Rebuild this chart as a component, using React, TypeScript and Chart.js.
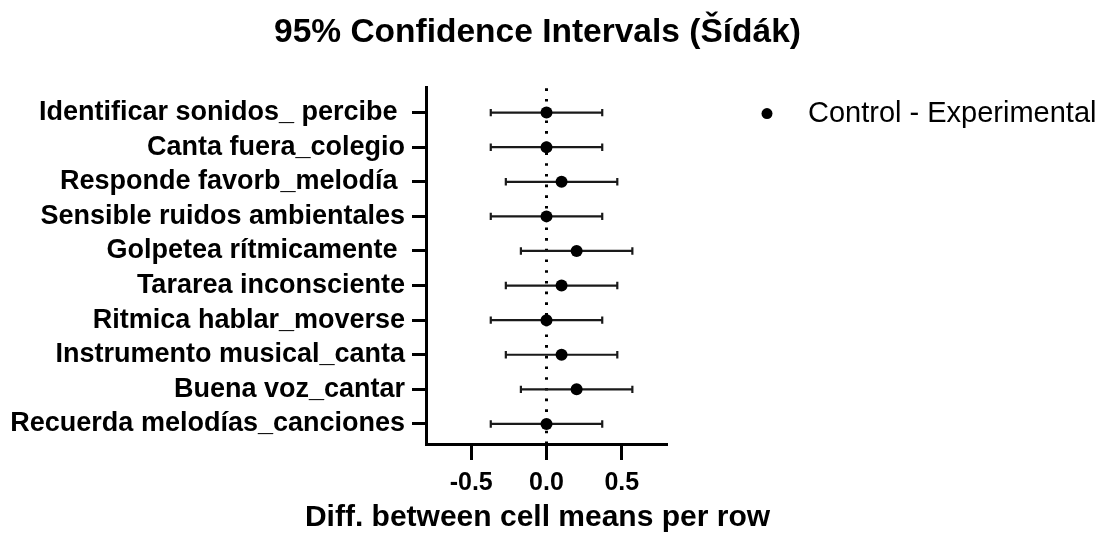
import React, { useEffect, useRef } from "react";
import { Chart, registerables } from "chart.js";

Chart.register(...registerables);

const rowLabels = [
  "Identificar sonidos_ percibe ",
  "Canta fuera_colegio",
  "Responde favorb_melodía ",
  "Sensible ruidos ambientales",
  "Golpetea rítmicamente ",
  "Tararea inconsciente",
  "Ritmica hablar_moverse",
  "Instrumento musical_canta",
  "Buena voz_cantar",
  "Recuerda melodías_canciones",
];
const diffs = [0, 0, 0.1, 0, 0.2, 0.1, 0, 0.1, 0.2, 0];
const lowerCI = [-0.37, -0.37, -0.27, -0.37, -0.17, -0.27, -0.37, -0.27, -0.17, -0.37];
const upperCI = [0.37, 0.37, 0.47, 0.37, 0.57, 0.47, 0.37, 0.47, 0.57, 0.37];
const xTicks = [-0.5, 0, 0.5];
const seriesName = "Control - Experimental";
const chartTitle = "95% Confidence Intervals (Šídák)";
const xTitle = "Diff. between cell means per row";

const FONT = '"Liberation Sans", Arial, Helvetica, sans-serif';

const annotPlugin = {
  id: "annot",
  beforeDatasetsDraw(chart: any) {
    const { ctx, chartArea, scales } = chart;
    const xs = scales.x;
    const ys = scales.y;
    ctx.save();
    const x0 = xs.getPixelForValue(0);
    ctx.strokeStyle = "#000";
    ctx.lineWidth = 3;
    ctx.setLineDash([2.6, 8.1]);
    ctx.beginPath();
    ctx.moveTo(x0, chartArea.bottom);
    ctx.lineTo(x0, chartArea.top);
    ctx.stroke();
    ctx.setLineDash([]);
    ctx.strokeStyle = "#1a1a1a";
    ctx.lineWidth = 2.2;
    diffs.forEach((_, i) => {
      const y = ys.getPixelForValue(i + 1);
      const xl = xs.getPixelForValue(lowerCI[i]);
      const xr = xs.getPixelForValue(upperCI[i]);
      ctx.beginPath();
      ctx.moveTo(xl, y);
      ctx.lineTo(xr, y);
      ctx.moveTo(xl, y - 3.7);
      ctx.lineTo(xl, y + 3.7);
      ctx.moveTo(xr, y - 3.7);
      ctx.lineTo(xr, y + 3.7);
      ctx.stroke();
    });
    ctx.restore();
  },
  afterDraw(chart: any) {
    const { ctx, chartArea, scales } = chart;
    const cx = (chartArea.left + chartArea.right) / 2 - 9;
    ctx.save();
    ctx.fillStyle = "#000";
    ctx.textAlign = "center";
    ctx.textBaseline = "middle";
    ctx.font = `bold 33.5px ${FONT}`;
    ctx.fillText(chartTitle, cx, chartArea.top - 54);
    ctx.font = `bold 30px ${FONT}`;
    ctx.fillText(xTitle, cx, chartArea.bottom + 74);
    // legend
    const ly = scales.y.getPixelForValue(1) + 1;
    ctx.beginPath();
    ctx.arc(chartArea.right + 100, ly, 5.5, 0, Math.PI * 2);
    ctx.fill();
    ctx.textAlign = "left";
    ctx.font = `29px ${FONT}`;
    ctx.fillText(seriesName, chartArea.right + 141, ly);
    ctx.restore();
  },
};

export default function App() {
  const canvasRef = useRef<HTMLCanvasElement | null>(null);

  useEffect(() => {
    document.body.style.margin = "0";
    const canvas = canvasRef.current;
    if (!canvas) return;
    const chart = new Chart(canvas, {
      type: "scatter",
      data: {
        datasets: [
          {
            label: seriesName,
            data: diffs.map((v, i) => ({ x: v, y: i + 1 })),
            pointRadius: 6,
            pointHoverRadius: 6,
            pointBackgroundColor: "#000",
            pointBorderColor: "#000",
            pointBorderWidth: 0,
            showLine: false,
          },
        ],
      },
      options: {
        responsive: false,
        animation: false,
        devicePixelRatio: 1,
        layout: { padding: { top: 87, right: 433, bottom: 0, left: 0 } },
        plugins: {
          legend: { display: false },
          title: { display: false },
          tooltip: { enabled: false },
        },
        scales: {
          x: {
            type: "linear",
            min: -0.8,
            max: 0.8,
            afterBuildTicks: (s: any) => {
              s.ticks = xTicks.map((v) => ({ value: v }));
            },
            afterFit: (s: any) => {
              s.height = 95;
            },
            ticks: {
              autoSkip: false,
              maxRotation: 0,
              color: "#000",
              padding: 8,
              font: { family: FONT, size: 25, weight: "bold" },
              callback: (v: any) => Number(v).toFixed(1),
            },
            grid: {
              display: true,
              drawOnChartArea: false,
              drawTicks: true,
              tickLength: 16,
              tickWidth: 3,
              tickColor: "#000",
            },
            border: { display: true, color: "#000", width: 3 },
          },
          y: {
            type: "linear",
            min: 0.26,
            max: 10.58,
            reverse: true,
            afterBuildTicks: (s: any) => {
              s.ticks = rowLabels.map((_, i) => ({ value: i + 1 }));
            },
            afterFit: (s: any) => {
              s.width = 426;
            },
            ticks: {
              autoSkip: false,
              color: "#000",
              padding: 7,
              font: { family: FONT, size: 27, weight: "bold" },
              callback: (v: any) => rowLabels[Math.round(Number(v)) - 1] ?? "",
            },
            grid: {
              display: true,
              drawOnChartArea: false,
              drawTicks: true,
              tickLength: 14,
              tickWidth: 3,
              tickColor: "#000",
            },
            border: { display: true, color: "#000", width: 3 },
          },
        },
      },
      plugins: [annotPlugin],
    });
    return () => chart.destroy();
  }, []);

  return (
    <div style={{ width: 1100, height: 539, background: "#fff" }}>
      <canvas ref={canvasRef} width={1100} height={539} />
    </div>
  );
}
